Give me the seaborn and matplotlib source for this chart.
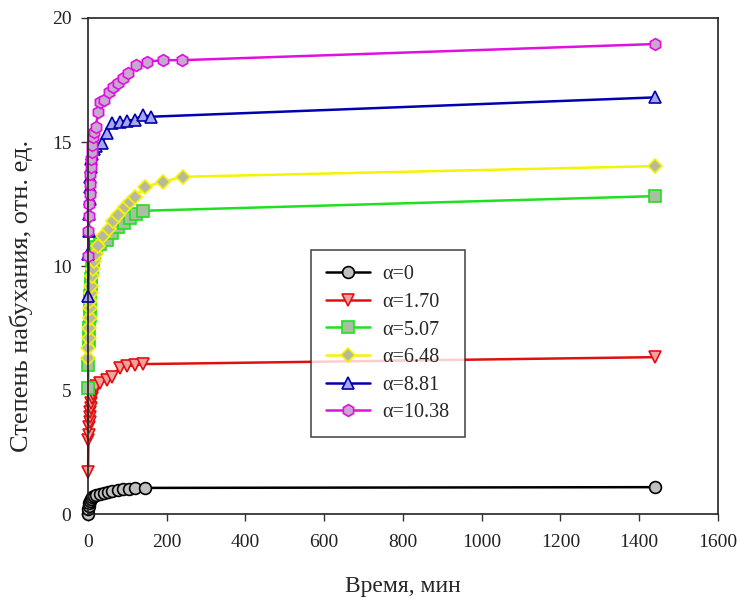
import numpy as np
import pandas as pd
import matplotlib
matplotlib.use("Agg")
import matplotlib.pyplot as plt
import seaborn as sns

# ==========================================
# Data
# ==========================================
t_a0 = [0, 1, 2, 3, 5, 7, 10, 15, 20, 30, 40, 50, 60, 75, 90, 105, 120, 145, 1440]
v_a0 = [0.0, 0.2, 0.35, 0.45, 0.55, 0.62, 0.68, 0.73, 0.77, 0.82, 0.86, 0.9, 0.93,
        0.96, 1.0, 1.02, 1.04, 1.06, 1.09]

t_a170 = [0, 1, 2, 3, 4, 5, 6, 7, 8, 10, 12, 15, 20, 30, 47, 60, 81, 98, 119, 140, 1440]
v_a170 = [1.7, 3.0, 3.2, 3.5, 3.7, 3.9, 4.1, 4.3, 4.5, 4.7, 4.85, 5.0, 5.15, 5.27, 5.4,
          5.55, 5.9, 5.97, 6.0, 6.05, 6.33]

t_a507 = [0, 1, 2, 3, 4, 5, 6, 7, 8, 10, 12, 15, 20, 30, 47, 62, 77, 92, 107, 121, 140, 1440]
v_a507 = [5.07, 6.0, 7.0, 7.5, 8.0, 8.4, 8.8, 9.2, 9.5, 9.9, 10.2, 10.5, 10.75, 10.9,
          11.07, 11.35, 11.56, 11.75, 11.92, 12.1, 12.23, 12.82]

t_a648 = [0, 1, 2, 3, 4, 5, 6, 7, 8, 10, 12, 15, 20, 26, 39, 52, 64, 77, 94, 107, 119,
          145, 191, 240, 1440]
v_a648 = [6.3, 6.7, 7.1, 7.5, 7.9, 8.3, 8.6, 8.9, 9.2, 9.6, 9.9, 10.2, 10.5, 10.8, 11.2,
          11.5, 11.8, 12.05, 12.4, 12.6, 12.8, 13.2, 13.4, 13.6, 14.03]

t_a881 = [0, 1, 2, 3, 4, 5, 6, 7, 8, 10, 15, 20, 35, 47, 60, 80, 98, 119, 140, 159, 1440]
v_a881 = [8.8, 10.5, 11.4, 12.1, 12.7, 13.2, 13.6, 14.0, 14.3, 14.5, 14.7, 14.85, 14.95,
          15.35, 15.75, 15.8, 15.86, 15.9, 16.09, 16.02, 16.8]

t_a1038 = [0, 1, 2, 3, 4, 5, 6, 7, 8, 9, 10, 12, 15, 19, 26, 30, 41, 52, 64, 77, 90, 102,
           121, 150, 190, 239, 1440]
v_a1038 = [10.4, 11.4, 12.0, 12.5, 12.9, 13.3, 13.7, 14.0, 14.3, 14.6, 14.9, 15.2, 15.4,
           15.6, 16.2, 16.6, 16.7, 17.0, 17.2, 17.4, 17.6, 17.8, 18.1, 18.24, 18.3, 18.3,
           18.95]

labels = ["α=0", "α=1.70", "α=5.07", "α=6.48", "α=8.81", "α=10.38"]
times = [t_a0, t_a170, t_a507, t_a648, t_a881, t_a1038]
values = [v_a0, v_a170, v_a507, v_a648, v_a881, v_a1038]

# line colour, marker, face colour
styles = [
    ("black",   "o", "#c0c0c0"),
    ("#e01010", "v", "#f4a0a0"),
    ("#20e020", "s", "#a8c0a0"),
    ("#f4f400", "D", "#b8b8a0"),
    ("#0000b0", "^", "#a8a8e8"),
    ("#e010e0", "h", "#c8a8d0"),
]

# ==========================================
# Plot
# ==========================================
sns.set_style("ticks")
plt.rcParams['font.family'] = ['Liberation Serif', 'DejaVu Serif']

fig = plt.figure(figsize=(7.4, 6), dpi=100)
ax = fig.add_axes([0.119, 0.143, 0.851, 0.827])

for lab, t, v, (col, mk, fc) in zip(labels, times, values, styles):
    df = pd.DataFrame({"t": t, "v": v})
    ms = 7 if mk == "D" else 8.5
    sns.lineplot(data=df, x="t", y="v", ax=ax, color=col, lw=1.8,
                 marker=mk, markersize=ms, markerfacecolor=fc,
                 markeredgecolor=col, markeredgewidth=1.2,
                 estimator=None, sort=False, label=lab, clip_on=False)

ax.set_xlim(0, 1600)
ax.set_ylim(0, 20)
ax.set_xticks(np.arange(0, 1601, 200))
ax.set_yticks([0, 5, 10, 15, 20])
ax.tick_params(direction="out", length=5, width=1, labelsize=14, colors="#333333",
               labelcolor="#222222")
ax.tick_params(axis="x", pad=9)
ax.tick_params(axis="y", pad=7)
for s in ax.spines.values():
    s.set_linewidth(1.2)
    s.set_color("#222222")

ax.set_xlabel("Время, мин", fontsize=17)
ax.xaxis.set_label_coords(0.5, -0.125)
ax.set_ylabel("Степень набухания, отн. ед.", fontsize=19)
ax.yaxis.set_label_coords(-0.088, 0.44)

leg = ax.legend(loc="upper left", bbox_to_anchor=(0.354, 0.532), fontsize=14.5,
                frameon=True, fancybox=False, edgecolor="#222222", borderaxespad=0,
                handlelength=2.2, handletextpad=0.6, borderpad=0.75, labelspacing=0.42)
leg.get_frame().set_linewidth(1.2)

plt.savefig("out.png", dpi=100)
